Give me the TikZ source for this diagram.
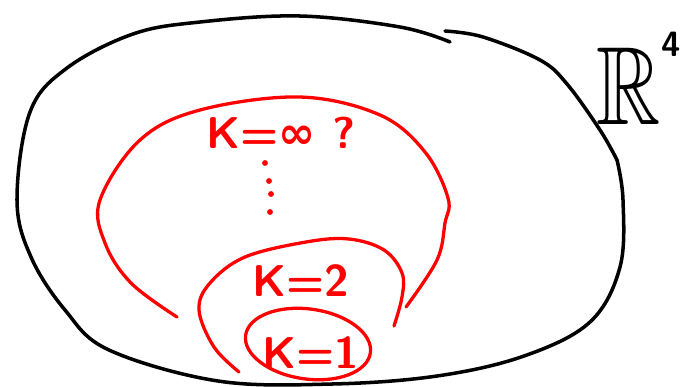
\documentclass[tikz,border=0pt]{standalone}
\usepackage{amssymb}
\usepackage{graphicx}
\usepackage{fontspec}
\newfontfamily\symbolfont{DejaVu Sans}
\usepackage{tikz}

\begin{document}
\begin{tikzpicture}[
  x=0.03cm, y=-0.03cm,
  space/.style={line width=3pt, black, line cap=round},
  level/.style={line width=2.8pt, red, line cap=round},
  klabel/.style={text=red, font=\sffamily\bfseries\fontsize{38}{40}\selectfont, inner sep=0pt},
  dot/.style={circle, fill=red, inner sep=0pt, minimum size=5pt}
]
\useasboundingbox (0,0) rectangle (681,386);
% outer space, drawn in two strokes
\draw[space] plot[smooth, tension=0.6] coordinates {(450,42) (400,27) (300,16) (200,22) (133,34)
  (67,68) (30,112) (17,200) (31,257) (65,310) (109,350) (218,381) (332,384) (437,376) (524,356)
  (590,322) (620,267) (623,200) (617,160)};
\draw[space] plot[smooth, tension=0.6] coordinates {(445,31) (483,37) (540,60) (567,84) (600,130) (617,160)};
\node[font=\fontsize{95}{95}\selectfont, inner sep=0pt] (rn) at (629,86) {\scalebox{0.8}[1]{$\mathbb{R}$}};
\node[font=\sffamily\bfseries\fontsize{30}{30}\selectfont, inner sep=0pt] (dim) at (671,44) {4};
% nested sets
\draw[level] plot[smooth, tension=0.6] coordinates {(177,317) (131,283) (105,243) (100,200) (140,140)
  (200,110) (300,97) (380,115) (425,152) (448,198) (445,223) (437,260) (406,307)};
\draw[level] plot[smooth, tension=0.6] coordinates {(239,372) (214,347) (199,310) (210,283) (245,257)
  (306,242) (349,239) (384,250) (402,273) (402,297) (394,326)};
\draw[level, rotate around={-8:(308,344)}] (308,344) ellipse [x radius=63, y radius=35];
\node[klabel] (kinf) at (281,133) {K={\symbolfont ∞} ?};
\node[klabel] (ktwo) at (301,281) {K=2};
\node[klabel] (kone) at (311,353) {K=1};
\foreach \yy/\xx in {163/265, 181/269, 194/271, 212/270}
  \node[dot] (d\yy) at (\xx,\yy) {};
\end{tikzpicture}
\end{document}
